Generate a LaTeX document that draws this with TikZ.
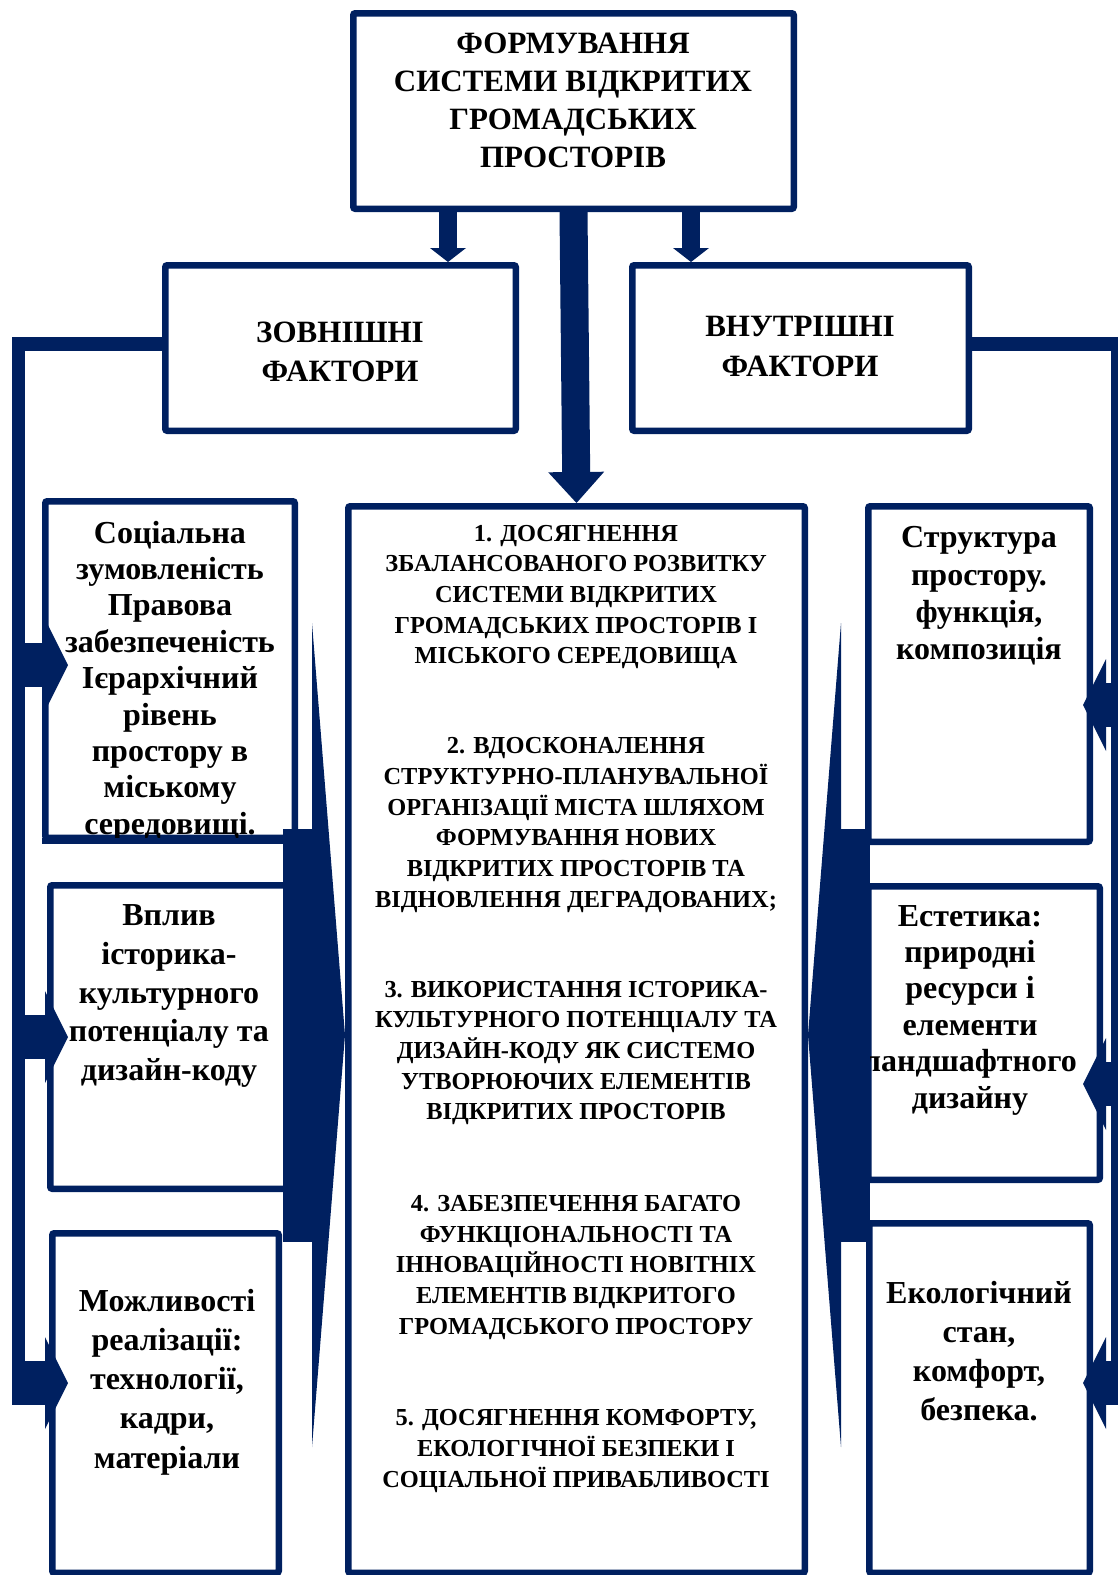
\documentclass[tikz,border=0pt]{standalone}
\usepackage{fontspec}
\setmainfont{Liberation Serif}
\usetikzlibrary{arrows.meta}
\definecolor{navy}{RGB}{0,32,96}

\tikzset{
  panel/.style={draw=navy, line width=6.5pt, fill=white, rounded corners=2pt, inner sep=0pt},
  paneltext/.style={font=\fontsize{32}{#1}\selectfont\bfseries, align=center, inner sep=0pt},
  paneltext/.default=37.5,
  headtext/.style={font=\fontsize{31}{#1}\selectfont\bfseries, align=center, inner sep=0pt},
  headtext/.default=38,
  goaltext/.style={font=\fontsize{24.4}{30.7}\selectfont\bfseries, align=center, inner sep=0pt},
  bar/.style={draw=navy, line width=13.5pt},
  downarrow/.style={draw=navy, line width=18pt, -{Triangle[width=36pt, length=14pt, line width=0pt]}},
  bigarrow/.style={draw=navy, line width=28pt, -{Triangle[width=56pt, length=31pt, line width=0pt]}},
  sidearrow/.style={draw=navy, line width=44pt, -{Triangle[width=92pt, length=23pt, line width=0pt]}},
  wedge/.style={draw=navy, line width=413pt, -{Triangle[width=824pt, length=33pt, line width=0pt]}}
}

\begin{document}
\begin{tikzpicture}[x=1pt, y=-1pt]
  \def\bw{6.5pt} % border width of the panels
  \useasboundingbox (0,0) rectangle (1118,1575);
  \clip (0,0) rectangle (1118,1575);

  % Corner points of the side bars
  \coordinate (lbTop) at (18.5,344);
  \coordinate (lbBot) at (18.5,1405);
  \coordinate (rbTop) at (1117.5,344);
  \coordinate (rbBot) at (1117.5,1405);

  % Panels
  \node[panel, minimum width=440.5pt, minimum height=195.5pt] (main) at (573.5,111) {};
  \node[panel, minimum width=350.5pt, minimum height=165.5pt] (extf) at (340.5,348) {};
  \node[panel, minimum width=336.5pt, minimum height=165.5pt] (intf) at (800.5,348) {};
  \node[panel, minimum width=249.5pt, minimum height=336.5pt] (ext1) at (170,669.5) {};
  \node[panel, minimum width=236.5pt, minimum height=303.5pt] (ext2) at (168.5,1037) {};
  \node[panel, minimum width=226.5pt, minimum height=339.5pt] (ext3) at (165.5,1403) {};
  \node[panel, minimum width=456.5pt, minimum height=1066.5pt] (goals) at (576.5,1039.5) {};
  \node[panel, minimum width=221.5pt, minimum height=335.5pt] (int1) at (979,674) {};
  \node[panel, minimum width=231.5pt, minimum height=293.5pt] (int2) at (984,1033) {};
  \node[panel, minimum width=220.5pt, minimum height=349.5pt] (int3) at (979.5,1398) {};

  % Texts of the panels
  \node[headtext] (mainT) at (573,100.5) {ФОРМУВАННЯ\\СИСТЕМИ ВІДКРИТИХ\\ГРОМАДСЬКИХ\\ПРОСТОРІВ};
  \node[headtext=39.5] (extfT) at (340,352) {ЗОВНІШНІ\\ФАКТОРИ};
  \node[headtext=39.5] (intfT) at (800,346.5) {ВНУТРІШНІ\\ФАКТОРИ};
  \node[paneltext=36.4] (ext1T) at (170,681) {Соціальна\\зумовленість\\Правова\\забезпеченість\\Ієрархічний\\рівень\\простору в\\міському\\середовищі.};
  \node[paneltext=38.9] (ext2T) at (169,996) {Вплив\\історика-\\культурного\\потенціалу та\\дизайн-коду};
  \node[paneltext=39.2] (ext3T) at (167,1382) {Можливості\\реалізації:\\технології,\\кадри,\\матеріали};
  \node[paneltext=37.3] (int1T) at (979,596) {Структура\\простору.\\функція,\\композиція};
  \node[paneltext=36.4] (int2T) at (970,1010) {Естетика:\\природні\\ресурси і\\елементи\\ландшафтного\\дизайну};
  \node[paneltext=38.8] (int3T) at (979,1351) {Екологічний\\стан,\\комфорт,\\безпека.};

  \node[goaltext] (g1) at (576,597) {1. ДОСЯГНЕННЯ\\ЗБАЛАНСОВАНОГО РОЗВИТКУ\\СИСТЕМИ ВІДКРИТИХ\\ГРОМАДСЬКИХ ПРОСТОРІВ І\\МІСЬКОГО СЕРЕДОВИЩА};
  \node[goaltext] (g2) at (576,825) {2. ВДОСКОНАЛЕННЯ\\СТРУКТУРНО-ПЛАНУВАЛЬНОЇ\\ОРГАНІЗАЦІЇ МІСТА ШЛЯХОМ\\ФОРМУВАННЯ НОВИХ\\ВІДКРИТИХ ПРОСТОРІВ ТА\\ВІДНОВЛЕННЯ ДЕГРАДОВАНИХ;};
  \node[goaltext] (g3) at (576,1053) {3. ВИКОРИСТАННЯ ІСТОРИКА-\\КУЛЬТУРНОГО ПОТЕНЦІАЛУ ТА\\ДИЗАЙН-КОДУ ЯК СИСТЕМО\\УТВОРЮЮЧИХ ЕЛЕМЕНТІВ\\ВІДКРИТИХ ПРОСТОРІВ};
  \node[goaltext] (g4) at (576,1267.5) {4. ЗАБЕЗПЕЧЕННЯ БАГАТО\\ФУНКЦІОНАЛЬНОСТІ ТА\\ІННОВАЦІЙНОСТІ НОВІТНІХ\\ЕЛЕМЕНТІВ ВІДКРИТОГО\\ГРОМАДСЬКОГО ПРОСТОРУ};
  \node[goaltext] (g5) at (576,1451) {5. ДОСЯГНЕННЯ КОМФОРТУ,\\ЕКОЛОГІЧНОЇ БЕЗПЕКИ І\\СОЦІАЛЬНОЇ ПРИВАБЛИВОСТІ};

  % Bottom edge of the first panel goes over its last line
  \draw[navy, line width=\bw] (ext1.south west) -- (ext1.south east);

  % Side bars
  \draw[bar] (extf.west |- lbTop) -- (lbTop) -- (lbBot);
  \draw[bar] (intf.east |- rbTop) -- (rbTop) -- (rbBot);

  % Arrows from the top panel
  \coordinate (aL) at (448,0);
  \coordinate (aR) at (691,0);
  \draw[downarrow] (main.south -| aL) -- (extf.north -| aL);
  \draw[downarrow] (main.south -| aR) -- (intf.north -| aR);
  \draw[bigarrow] (main.south) -- (goals.north);

  % Big arrows into the middle panel
  \coordinate (wL) at (283,1035);
  \coordinate (wR) at (870,1035);
  \draw[wedge] (wL) -- (goals.west |- wL);
  \draw[wedge] (wR) -- (goals.east |- wR);

  % Small arrows from the side bars
  \foreach \yy in {665, 1037, 1383} {
    \coordinate (p) at (0,\yy);
    \draw[sidearrow] (lbTop |- p) -- ++(49.5,0);
  }
  \foreach \yy in {705, 1084, 1383} {
    \coordinate (p) at (0,\yy);
    \draw[sidearrow] (rbTop |- p) -- ++(-34.5,0);
  }
\end{tikzpicture}
\end{document}
